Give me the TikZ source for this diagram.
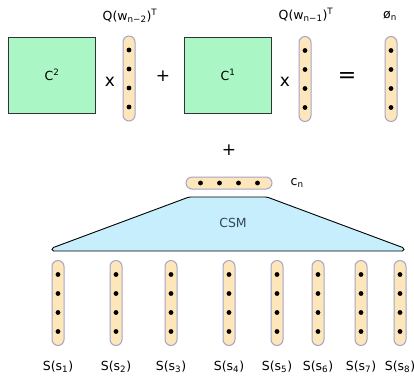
\documentclass[tikz,border=0pt]{standalone}
\usepackage{fontspec}
\setmainfont{DejaVu Sans}
\usetikzlibrary{positioning,calc}
\definecolor{MatGreen}{RGB}{170,246,196}
\definecolor{VecPeach}{RGB}{253,230,186}
\definecolor{VecEdge}{RGB}{165,165,200}
\definecolor{CsmBlue}{RGB}{198,238,252}
\definecolor{CsmText}{RGB}{55,70,90}

\begin{document}
\begin{tikzpicture}[
    x=1pt, y=-1pt,
    % ── Node styles ──
    mat/.style  = {rectangle, draw=black!80, fill=MatGreen, line width=0.9pt,
                   minimum width=87pt, minimum height=76pt,
                   font=\fontsize{12.5}{15}\selectfont, inner sep=0pt},
    vcol/.style = {rectangle, rounded corners=6pt,
                   draw=VecEdge, fill=VecPeach, line width=1pt,
                   minimum width=12pt, minimum height=85pt, inner sep=0pt},
    vrow/.style = {vcol, minimum width=86pt, minimum height=12pt},
    op/.style   = {font=\fontsize{17}{20}\selectfont},
    lbl/.style  = {font=\fontsize{12.5}{15}\selectfont, inner sep=1pt},
    dot/.style  = {fill=black},
]
\useasboundingbox (0,0) rectangle (414,376);

% =====================================================================
%  TOP ROW: C^2 x Q(w_{n-2})^T + C^1 x Q(w_{n-1})^T = phi_n
% =====================================================================
\node[mat] (C2) at (52,75)  {C\textsuperscript{2}};
\node[op]  (x1) at (110,82) {x};
\node[vcol] (q1) at (129,78.5) {};
\node[op]  (p1) at (163,76) {+};
\node[mat] (C1) at (228,75) {C\textsuperscript{1}};
\node[op]  (x2) at (285,82) {x};
\node[vcol] (q2) at (305,79) {};
\node[op, font=\fontsize{22}{24}\selectfont] (eq) at (347,77) {=};
\node[vcol] (phi) at (391,79) {};

\foreach \v in {q1,q2,phi}
  \foreach \d in {-28.5,-9.5,9.5,28.5}
    \fill[dot] ($(\v.center)+(0,\d)$) circle (2.4pt);

\node[lbl] (q1l)  at (130,16) {Q(w\textsubscript{n−2})\textsuperscript{T}};
\node[lbl] (q2l)  at (306,15) {Q(w\textsubscript{n−1})\textsuperscript{T}};
\node[lbl] (phil) at (390,16) {ø\textsubscript{n}};

% =====================================================================
%  MIDDLE: + c_n, CSM
% =====================================================================
\node[op] (p2) at (229,150) {+};
\node[vrow] (cn) at (229,183) {};
\foreach \d in {-28.5,-9.5,9.5,28.5}
  \fill[dot] ($(cn.center)+(\d,0)$) circle (2.4pt);
\node[lbl, right=17pt of cn] (cnl) {c\textsubscript{n}};

\draw[fill=CsmBlue, line width=0.9pt, rounded corners=1.5pt]
    (189,197) -- (267,197) -- (404,248) -- (404,251) -- (52,251) -- (52,248) -- cycle;
\node[lbl, text=CsmText] (csm) at (233,223) {CSM};

% =====================================================================
%  BOTTOM ROW: sentence vectors S(s_1) ... S(s_8)
% =====================================================================
\foreach \i/\x in {1/58,2/116,3/171,4/229,5/277,6/318,7/361,8/400} {
  \node[vcol] (s\i) at (\x,303) {};
  \foreach \d in {-28.5,-9.5,9.5,28.5}
    \fill[dot] ($(s\i.center)+(0,\d)$) circle (2.4pt);
  \node[lbl] (s\i l) at (\x,367) {S(s\textsubscript{\i})};
}

\end{tikzpicture}
\end{document}
